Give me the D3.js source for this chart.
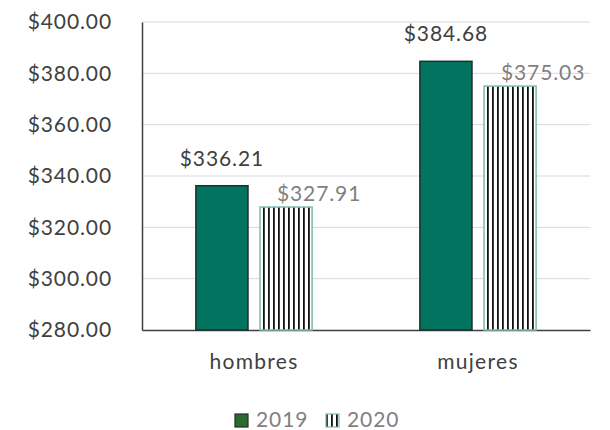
<!DOCTYPE html>
<html><head><meta charset="utf-8">
<script src="https://cdn.jsdelivr.net/npm/d3@7"></script>
<style>body{margin:0;background:#fff}svg{display:block}</style>
</head><body>
<script>
const categories = ["hombres", "mujeres"];
const seriesNames = ["2019", "2020"];
const values2019 = [336.21, 384.68];
const values2020 = [327.91, 375.03];
const yTicks = [280, 300, 320, 340, 360, 380, 400];

const W = 610, H = 430;
const margin = {left: 142, right: 20, top: 22, bottom: 100};
const font = "Lato, 'Open Sans', sans-serif";
const FS = 21, LS = 0.9;
const svg = d3.select("body").append("svg").attr("width", W).attr("height", H);

const defs = svg.append("defs");
const pat = defs.append("pattern").attr("id", "vstripe").attr("patternUnits", "userSpaceOnUse")
  .attr("width", 5).attr("height", 10);
pat.append("rect").attr("width", 5).attr("height", 10).attr("fill", "#fff");
pat.append("rect").attr("x", 1).attr("width", 1.8).attr("height", 10).attr("fill", "#111");

const x0 = d3.scaleBand().domain(categories).range([margin.left, W - margin.right]).paddingInner(0).paddingOuter(0);
const x1 = d3.scaleBand().domain(seriesNames).range([0, x0.bandwidth()]).paddingInner(0.1875).paddingOuter(0.84);
const y = d3.scaleLinear().domain([280, 400]).range([H - margin.bottom, margin.top]);

// gridlines
svg.append("g").selectAll("line").data(yTicks.slice(1)).join("line")
  .attr("x1", margin.left).attr("x2", W - margin.right)
  .attr("y1", d => y(d)).attr("y2", d => y(d))
  .attr("stroke", "#d9d9d9").attr("stroke-width", 1);

// y axis
const yAxis = d3.axisLeft(y).tickValues(yTicks).tickSize(0).tickPadding(30)
  .tickFormat(d => "$" + d3.format(".2f")(d));
const gy = svg.append("g").attr("transform", `translate(${margin.left},0)`).call(yAxis);
gy.select(".domain").attr("stroke", "#404040").attr("stroke-width", 1.5);
gy.selectAll("text").attr("font-family", font).attr("font-size", FS).attr("letter-spacing", LS).attr("fill", "#404040");

// x axis
const xAxis = d3.axisBottom(x0).tickSize(0).tickPadding(24);
const gx = svg.append("g").attr("transform", `translate(0,${y(280)})`).call(xAxis);
gx.select(".domain").attr("stroke", "#404040").attr("stroke-width", 1.5);
gx.selectAll("text").attr("font-family", font).attr("font-size", FS).attr("letter-spacing", 1.3).attr("fill", "#404040");

const data = categories.map((c, i) => ({cat: c, v: [values2019[i], values2020[i]]}));

const groups = svg.append("g").selectAll("g").data(data).join("g")
  .attr("transform", d => `translate(${x0(d.cat)},0)`);

// 2019 bars
groups.append("rect")
  .attr("x", x1("2019")).attr("width", x1.bandwidth())
  .attr("y", d => y(d.v[0])).attr("height", d => y(280) - y(d.v[0]))
  .attr("fill", "#01735f").attr("stroke", "#1f2f2b").attr("stroke-width", 1.5);
// 2020 bars
groups.append("rect")
  .attr("x", x1("2020")).attr("width", x1.bandwidth())
  .attr("y", d => y(d.v[1])).attr("height", d => y(280) - y(d.v[1]))
  .attr("fill", "url(#vstripe)").attr("stroke", "#7ebaae").attr("stroke-width", 1.5);

// labels
groups.append("text")
  .attr("x", x1("2019") + x1.bandwidth() / 2).attr("y", d => y(d.v[0]) - 20)
  .attr("text-anchor", "middle").attr("font-family", font).attr("font-size", FS).attr("letter-spacing", LS).attr("fill", "#404040")
  .text(d => "$" + d3.format(".2f")(d.v[0]));
groups.append("text")
  .attr("x", x1("2020") + x1.bandwidth() / 2 + 33).attr("y", d => y(d.v[1]) - 6)
  .attr("text-anchor", "middle").attr("font-family", font).attr("font-size", FS).attr("letter-spacing", LS).attr("fill", "#7f7f7f")
  .text(d => "$" + d3.format(".2f")(d.v[1]));

// legend
const leg = svg.append("g");
const legItems = [
  {name: seriesNames[0], x: 235, fill: "#2d6a30", stroke: "#1f3320"},
  {name: seriesNames[1], x: 326, fill: "url(#vstripe)", stroke: "#7ebaae"}
];
legItems.forEach(it => {
  leg.append("rect").attr("x", it.x).attr("y", 414).attr("width", 13).attr("height", 13)
    .attr("fill", it.fill).attr("stroke", it.stroke).attr("stroke-width", 1.2);
  leg.append("text").attr("x", it.x + 21).attr("y", 427).attr("font-family", font)
    .attr("font-size", FS).attr("letter-spacing", LS).attr("fill", "#7f7f7f").text(it.name);
});
</script>
</body></html>
